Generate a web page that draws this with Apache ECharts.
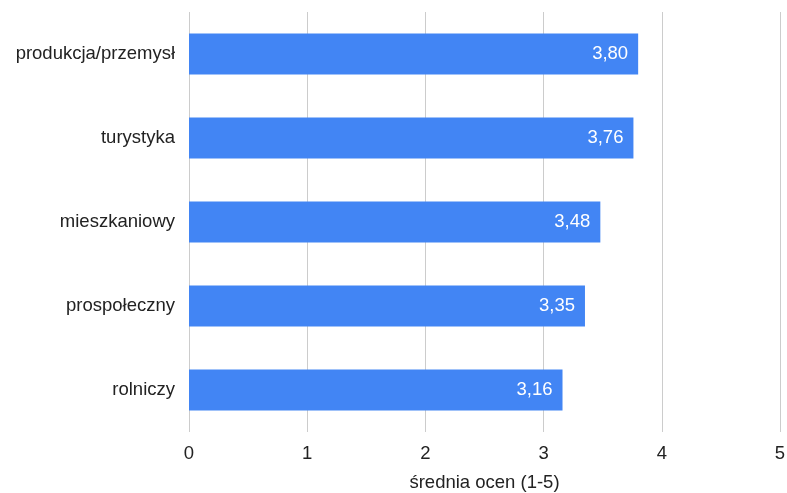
<!DOCTYPE html>
<html><head><meta charset="utf-8">
<script src="https://cdn.jsdelivr.net/npm/echarts@6/dist/echarts.min.js"></script>
<style>html,body{margin:0;padding:0;background:#fff}#c{width:787px;height:493px}</style>
</head><body><div id="c"></div>
<script>
var categories = ["produkcja/przemysł", "turystyka", "mieszkaniowy", "prospołeczny", "rolniczy"];
var values = [3.80, 3.76, 3.48, 3.35, 3.16];
var xTicks = [0, 1, 2, 3, 4, 5];
var axisTitle = "średnia ocen (1-5)";

var chart = echarts.init(document.getElementById('c'), null, {renderer: 'canvas'});
var font = '"Liberation Sans", Arial, sans-serif';
var fs = 18.5;
chart.setOption({
  animation: false,
  grid: {left: 189, right: 7, top: 12, bottom: 61, containLabel: false, outerBoundsMode: 'none'},
  xAxis: {
    type: 'value', min: xTicks[0], max: xTicks[xTicks.length - 1], interval: 1,
    name: axisTitle, nameLocation: 'middle', nameGap: 41,
    nameTextStyle: {color: '#222', fontSize: fs, fontFamily: font},
    axisLine: {show: false}, axisTick: {show: false},
    axisLabel: {color: '#222', fontSize: fs, fontFamily: font, margin: 12},
    splitLine: {show: true, lineStyle: {color: '#cccccc', width: 1}}
  },
  yAxis: {
    type: 'category', data: categories, inverse: true,
    axisLine: {show: false}, axisTick: {show: false},
    axisLabel: {color: '#222', fontSize: fs, fontFamily: font, margin: 14}
  },
  series: [{
    type: 'bar', data: values, barWidth: '49%',
    itemStyle: {color: '#4285f4'},
    label: {show: true, position: 'insideRight', distance: 10, color: '#fff', fontSize: fs, fontFamily: font,
      formatter: function (p) { return p.value.toFixed(2).replace('.', ','); }}
  }]
});
</script></body></html>
